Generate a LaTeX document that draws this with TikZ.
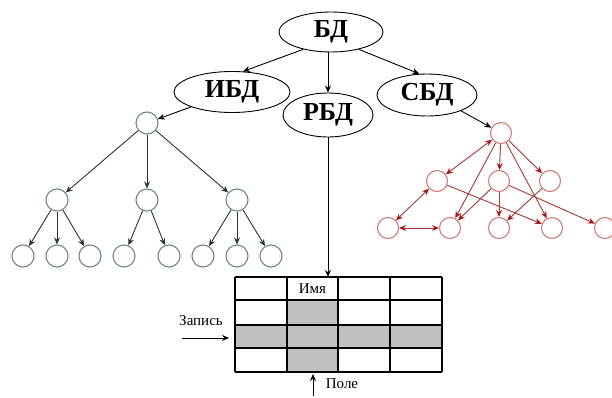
\documentclass[tikz,border=0pt]{standalone}
\usepackage{fontspec}
\setmainfont{Liberation Serif}
\usetikzlibrary{shapes.geometric,arrows.meta}
\definecolor{treeedge}{RGB}{50,50,50}
\definecolor{treering}{RGB}{110,135,145}
\definecolor{netedge}{RGB}{165,55,55}
\definecolor{nettip}{RGB}{170,25,25}
\definecolor{netring}{RGB}{205,125,125}
\definecolor{cellgray}{RGB}{192,192,192}
\tikzset{
  dbbox/.style={ellipse,draw,line width=0.9pt,inner sep=0pt,font=\bfseries\fontsize{26}{28}\selectfont},
  treenode/.style={circle,draw=treering,line width=1.1pt,minimum size=22pt,inner sep=0pt},
  netnode/.style={circle,draw=netring,line width=1.1pt,minimum size=21pt,inner sep=0pt},
  tarrow/.style={draw=treeedge,line width=0.9pt,-{Stealth[length=7pt,width=6pt]}},
  narrow/.style={draw=netedge,line width=0.9pt,-{Stealth[length=7pt,width=6pt,color=nettip]}},
  nboth/.style={draw=netedge,line width=0.9pt,{Stealth[length=7pt,width=6pt,color=nettip]}-{Stealth[length=7pt,width=6pt,color=nettip]}},
  karrow/.style={draw=black,line width=0.9pt,-{Stealth[length=7pt,width=6pt]}},
  grid/.style={draw=black,line width=1.2pt},
  smalltext/.style={font=\fontsize{15}{17}\selectfont,inner sep=0pt}
}
\begin{document}
\begin{tikzpicture}[x=1pt,y=-1pt]
\useasboundingbox[fill=white] (0,0) rectangle (612,398);

% database kinds
\node[dbbox,minimum width=104pt,minimum height=40pt] (bd) at (331,32) {БД};
\node[dbbox,minimum width=116pt,minimum height=41pt] (ibd) at (232,92) {ИБД};
\node[dbbox,minimum width=90pt,minimum height=44pt] (rbd) at (328,115) {РБД};
\node[dbbox,minimum width=100pt,minimum height=42pt] (sbd) at (427,95) {СБД};

\draw[karrow] (bd.212) -- (ibd.62);
\draw[karrow] (bd.south -| rbd.north) -- (rbd.north);
\draw[karrow] (bd.-32) -- (sbd.110);

% hierarchical tree
\node[treenode] (h0) at (147,123) {};
\node[treenode] (h1) at (57,200) {};
\node[treenode] (h2) at (147,200) {};
\node[treenode] (h3) at (237,200) {};
\foreach \i/\x in {1/23,2/57,3/90,4/124,5/169,6/203,7/237,8/271}
  \node[treenode] (hl\i) at (\x,256) {};

\draw[karrow] (ibd.200) -- (h0);
\foreach \t in {h1,h2,h3} \draw[tarrow] (h0) -- (\t);
\foreach \t in {hl1,hl2,hl3} \draw[tarrow] (h1) -- (\t);
\foreach \t in {hl4,hl5} \draw[tarrow] (h2) -- (\t);
\foreach \t in {hl6,hl7,hl8} \draw[tarrow] (h3) -- (\t);

% network structure
\node[netnode] (n0) at (501,133) {};
\node[netnode] (n1) at (437,181) {};
\node[netnode] (n2) at (499,181) {};
\node[netnode] (n3) at (550,181) {};
\foreach \i/\x in {1/388,2/450,3/499,4/552,5/605}
  \node[netnode] (nl\i) at (\x,228) {};

\draw[karrow] (sbd.-25) -- (n0);
\draw[nboth] (n0) -- (n1);
\draw[narrow] (n0) -- (n2);
\draw[narrow] (n0) -- (n3);
\draw[narrow] (n0) -- (nl2);
\draw[narrow] (n0) -- (nl4);
\draw[nboth] (n1) -- (nl1);
\draw[narrow] (n1) -- (nl4);
\draw[narrow] (n2) -- (nl2);
\draw[narrow] (n2) -- (nl3);
\draw[narrow] (n2) -- (nl5);
\draw[narrow] (n3) -- (nl3);
\draw[nboth] (nl1) -- (nl2);

% relational table
\fill[cellgray] (287,300) rectangle (338,372);
\fill[cellgray] (235,325) rectangle (442,348);
\foreach \x in {235,287,338,390,442} \draw[grid] (\x,277) -- (\x,372);
\foreach \y in {277,300,325,348,372} \draw[grid] (235,\y) -- (442,\y);
\coordinate (tabtop) at (rbd.south |- 0,277);
\draw[karrow] (rbd.south) -- (tabtop);

\node[smalltext] (name) at (312.5,289) {Имя};
\node[smalltext] (rec) at (201,321) {Запись};
\coordinate (recA) at (182,338);
\coordinate (recB) at (229,338);
\draw[karrow] (recA) -- (recB);
\node[smalltext] (fld) at (342,384) {Поле};
\coordinate (fldA) at (313,396);
\coordinate (fldB) at (313,374);
\draw[karrow] (fldA) -- (fldB);
\end{tikzpicture}
\end{document}
